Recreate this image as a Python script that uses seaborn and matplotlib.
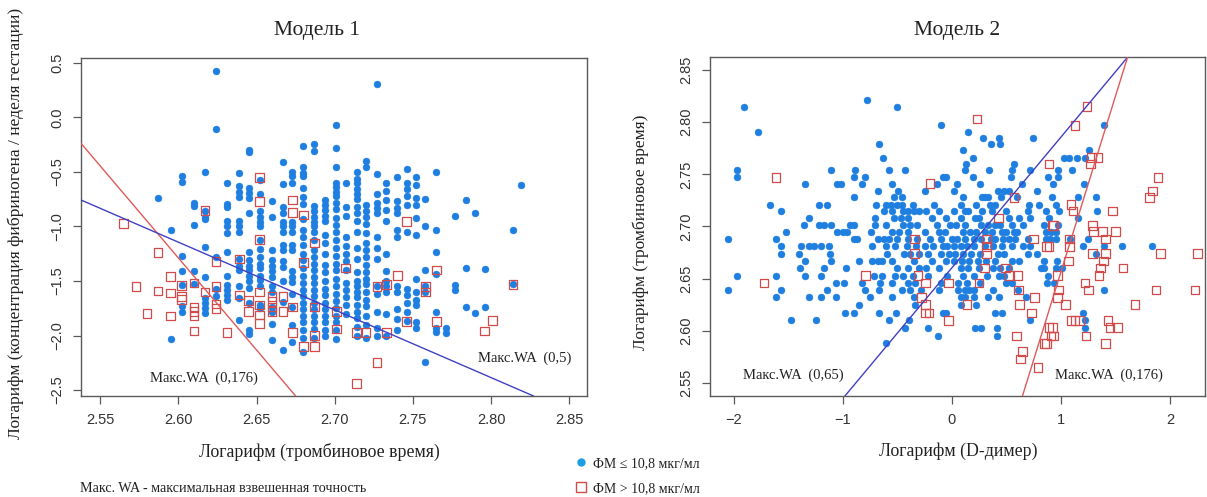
import numpy as np
import pandas as pd
import matplotlib
matplotlib.use("Agg")
import matplotlib.pyplot as plt
from matplotlib.lines import Line2D
import seaborn as sns

BLUE = "#1F7FE0"; RED = "#D24B4B"; LBLUE = "#1BA0E2"
LINE_RED = "#E05A5A"; LINE_BLUE = "#4040C4"
FRAME = "#5A5A5A"; TXT = "#222222"; TICK = "#333333"
SERIF = ["Liberation Serif", "DejaVu Serif"]
SANS = ["Liberation Sans", "DejaVu Sans"]

# ---- Model 1: log thrombin time (columns) -> log(fibrinogen / gestation week)
m1_blue_tt = [2.587, 2.595, 2.602, 2.610, 2.617, 2.624, 2.631, 2.639, 2.645, 2.652,
              2.660, 2.667, 2.673, 2.680, 2.687, 2.694, 2.701, 2.707, 2.714, 2.720,
              2.727, 2.733, 2.740, 2.746, 2.752, 2.758, 2.765, 2.771, 2.777, 2.784,
              2.790, 2.796, 2.814, 2.819]
m1_blue_fib = [
    [-0.74],
    [-1.03, -2.03],
    [-0.54, -0.59, -1.27, -1.41, -1.54, -1.73, -1.78],
    [-0.78, -0.81, -0.99, -1.41, -1.53],
    [-0.50, -0.86, -0.91, -0.93, -1.19, -1.46, -1.66, -1.70, -1.75, -1.79],
    [0.43, -0.11, -1.28, -1.57, -1.64],
    [-0.60, -0.79, -0.82, -0.95, -1.00, -1.06, -1.23, -1.45, -1.54, -1.58, -1.63, -1.67],
    [-0.51, -0.63, -0.68, -0.73, -0.95, -1.00, -1.05, -1.30, -1.36, -1.40, -1.55, -1.66, -1.86],
    [-0.30, -0.32, -0.65, -0.69, -0.74, -0.88, -1.23, -1.31, -1.36, -1.40, -1.45, -1.50, -1.56,
     -1.70, -1.95, -1.99],
    [-0.57, -0.70, -0.86, -0.91, -0.955, -1.00, -1.12, -1.21, -1.28, -1.34, -1.38, -1.45, -1.49,
     -1.55, -1.72, -1.75],
    [-0.77, -0.915, -1.22, -1.31, -1.36, -1.41, -1.46, -1.55, -1.60, -1.74, -1.78, -1.89, -2.04],
    [-0.41, -0.61, -0.82, -0.88, -0.955, -1.00, -1.05, -1.17, -1.22, -1.32, -1.37, -1.50, -1.69, -2.13],
    [-0.50, -0.535, -0.60, -0.955, -1.00, -1.05, -1.17, -1.22, -1.41, -1.46, -1.51, -1.62, -1.74,
     -1.90, -2.06],
    [-0.26, -0.45, -0.51, -0.54, -0.65, -0.73, -0.79, -0.93, -1.03, -1.10, -1.17, -1.25, -1.31,
     -1.38, -1.45, -1.52, -1.58, -1.64, -1.70, -1.76, -1.82, -1.88, -1.95, -2.02, -2.15],
    [-0.245, -0.31, -0.81, -0.86, -0.91, -0.96, -1.00, -1.05, -1.12, -1.22, -1.28, -1.34, -1.40,
     -1.46, -1.52, -1.58, -1.64, -1.70, -1.76, -1.82, -1.88, -1.94, -2.02],
    [-0.76, -0.80, -0.85, -0.90, -0.95, -1.08, -1.15, -1.25, -1.35, -1.42, -1.50, -1.57, -1.63,
     -1.70, -1.76, -1.82, -1.88, -1.95, -2.00],
    [-0.07, -0.28, -0.45, -0.60, -0.64, -0.68, -0.72, -0.78, -0.84, -0.92, -0.99, -1.05, -1.12,
     -1.20, -1.27, -1.34, -1.40, -1.48, -1.55, -1.62, -1.68, -1.75, -1.82, -1.88, -1.95, -2.03],
    [-0.60, -0.82, -0.90, -1.10, -1.18, -1.25, -1.32, -1.40, -1.52, -1.58, -1.65, -1.72, -1.80],
    [-0.50, -0.56, -0.60, -0.66, -0.70, -0.75, -0.82, -0.88, -0.95, -1.05, -1.20, -1.30, -1.42,
     -1.50, -1.55, -1.60, -1.65, -1.72, -1.78, -1.84, -1.92, -2.00],
    [-0.40, -0.45, -0.80, -0.86, -0.91, -0.98, -1.06, -1.15, -1.22, -1.28, -1.35, -1.42, -1.48,
     -1.53, -1.60, -1.67, -1.73, -1.82, -1.90, -2.02],
    [0.31, -0.52, -0.70, -0.78, -0.83, -0.88, -1.10, -1.20, -1.30, -1.55, -1.62, -1.78, -1.93, -2.00],
    [-0.60, -0.67, -0.76, -0.85, -0.95, -1.25, -1.41, -1.50, -1.55, -1.60, -1.80, -2.00],
    [-0.545, -0.77, -0.83, -0.88, -1.03, -1.10, -1.55, -1.60, -1.76, -1.85, -1.95],
    [-0.47, -0.60, -0.66, -0.72, -0.80, -1.05, -1.57, -1.63, -1.70, -1.78, -1.87],
    [-0.55, -0.62, -0.74, -0.80, -0.92, -1.08, -1.48, -1.60, -1.67, -1.72, -1.88, -1.93],
    [-0.75, -1.00, -1.40, -1.55, -1.60, -2.24],
    [-0.50, -1.03, -1.23, -1.44, -1.78, -1.93, -1.97],
    [-1.93, -1.98],
    [-0.90, -1.54, -1.58],
    [-0.76, -1.38, -1.74],
    [-0.88, -1.79],
    [-1.39, -1.74],
    [-1.03, -1.53],
    [-0.62],
]
m1_red_tt = [2.565, 2.573, 2.580, 2.587, 2.587, 2.595, 2.595, 2.595, 2.602, 2.602, 2.602,
             2.610, 2.610, 2.610, 2.610, 2.610, 2.617, 2.617, 2.624, 2.624, 2.624, 2.624,
             2.631, 2.639, 2.639, 2.645, 2.645, 2.652, 2.652, 2.652, 2.652, 2.652, 2.652,
             2.652, 2.660, 2.660, 2.660, 2.660, 2.667, 2.667, 2.673, 2.673, 2.673, 2.673,
             2.680, 2.680, 2.680, 2.687, 2.687, 2.687, 2.687, 2.701, 2.701, 2.707, 2.714,
             2.714, 2.720, 2.727, 2.727, 2.733, 2.733, 2.740, 2.746, 2.746, 2.758, 2.758,
             2.765, 2.765, 2.796, 2.801, 2.814]
m1_red_fib = [-0.97, -1.55, -1.80, -1.24, -1.59, -1.46, -1.61, -1.82, -1.54, -1.64, -1.67,
              -1.52, -1.74, -1.78, -1.82, -1.96, -0.855, -1.60, -1.32, -1.55, -1.71, -1.75,
              -1.97, -1.30, -1.63, -1.68, -1.78, -0.55, -0.77, -1.12, -1.60, -1.72, -1.81,
              -1.89, -1.64, -1.69, -1.74, -1.78, -1.64, -1.78, -0.757, -0.87, -1.74, -1.97,
              -0.895, -1.33, -2.10, -1.15, -1.74, -2.00, -2.10, -1.78, -1.94, -1.38, -1.97,
              -2.44, -1.97, -1.55, -2.25, -1.53, -1.97, -1.45, -0.955, -1.87, -1.55, -1.60,
              -1.40, -1.87, -1.96, -1.86, -1.53]
# cut-off lines (end points)
m1_cut_red_tt = [2.5377, 2.675]
m1_cut_red_fib = [-0.237, -2.555]
m1_cut_blue_tt = [2.5377, 2.8272]
m1_cut_blue_fib = [-0.757, -2.555]

# ---- Model 2: log D-dimer (x) vs log thrombin time (rows)
m2_blue_tt = [2.821, 2.815, 2.797, 2.791, 2.785, 2.779, 2.773, 2.766, 2.760, 2.754, 2.747,
              2.741, 2.734, 2.728, 2.721, 2.715, 2.708, 2.701, 2.695, 2.688, 2.681, 2.674,
              2.667, 2.660, 2.653, 2.646, 2.639, 2.632, 2.625, 2.617, 2.610, 2.603, 2.595, 2.588]
m2_blue_dd = [
    [-0.78],
    [-1.905, -0.50],
    [-0.10, 1.39],
    [-1.775, 0.15],
    [0.29, 0.43, 0.74],
    [-0.67, 0.36, 0.44],
    [0.10, 1.26],
    [-0.635, 0.19, 1.03, 1.07, 1.15, 1.22],
    [0.13, 0.57],
    [-1.97, -1.11, -0.89, -0.58, -0.43, 0.12, 0.34, 0.55, 0.72, 0.97, 1.10],
    [-1.97, -0.895, -0.80, -0.08, -0.05, 0.19, 0.54, 0.88, 0.97],
    [-1.35, -1.05, -1.02, -0.82, -0.55, -0.14, 0.05, 0.26, 0.64, 0.93, 1.21],
    [-0.68, -0.49, -0.25, 0.02, 0.42, 0.48, 0.52, 0.78],
    [-0.895, -0.53, -0.46, 0.10, 0.28, 0.30, 0.33, 0.45, 0.60, 0.92, 1.16, 1.32],
    [-1.665, -1.215, -1.14, -0.695, -0.60, -0.56, -0.50, -0.46, -0.36, -0.16, 0.08, 0.22, 0.35,
     0.40, 0.71, 0.80, 0.95],
    [-1.567, -0.62, -0.55, -0.45, -0.40, -0.35, -0.30, -0.24, -0.12, 0.02, 0.12, 0.15, 0.28,
     0.37, 0.50, 0.70, 0.86, 0.98, 1.33],
    [-1.31, -0.70, -0.53, -0.47, -0.40, -0.18, -0.05, 0.08, 0.21, 0.25, 0.52, 0.62, 0.72, 0.89, 1.16],
    [-1.353, -1.215, -1.17, -1.11, -0.93, -0.90, -0.70, -0.60, -0.45, -0.38, -0.32, -0.14,
     -0.02, 0.04, 0.12, 0.27, 0.33, 0.40, 0.44, 0.55, 0.65, 0.84, 0.97],
    [-1.52, -1.048, -1.00, -0.957, -0.74, -0.55, -0.48, -0.40, -0.25, -0.12, -0.06, 0.10, 0.17,
     0.22, 0.30, 0.37, 0.46, 0.50, 0.57, 0.60, 0.86, 0.91, 0.95],
    [-2.05, -1.61, -0.90, -0.87, -0.68, -0.62, -0.58, -0.50, -0.40, -0.32, -0.20, -0.10, 0.00,
     0.05, 0.12, 0.20, 0.27, 0.36, 0.40, 0.47, 0.52, 0.58, 0.70, 0.86, 0.90, 0.95, 1.08, 1.25],
    [-1.567, -1.384, -1.307, -1.26, -1.20, -1.13, -0.735, -0.60, -0.52, -0.41, -0.33, -0.25,
     -0.17, -0.08, -0.04, 0.02, 0.08, 0.14, 0.20, 0.30, 0.38, 0.46, 0.55, 0.65, 0.72, 1.20,
     1.39, 1.56, 1.83],
    [-1.567, -1.40, -1.115, -0.59, -0.44, -0.38, -0.30, -0.22, -0.10, -0.03, 0.03, 0.10, 0.18,
     0.26, 0.42, 0.48, 0.70, 0.78, 1.32],
    [-1.344, -1.11, -0.85, -0.73, -0.68, -0.64, -0.55, -0.35, -0.18, -0.05, 0.02, 0.09, 0.16,
     0.24, 0.31, 0.40, 0.55, 0.62, 0.84, 0.96],
    [-1.39, -1.17, -0.972, -0.50, -0.40, -0.30, -0.24, -0.12, 0.08, 0.15, 0.25, 0.38, 0.44,
     0.52, 0.82, 0.84, 0.95, 1.01],
    [-1.97, -1.61, -1.35, -1.20, -0.715, -0.64, -0.52, -0.45, -0.36, -0.22, -0.04, 0.10, 0.20,
     0.32, 0.43, 0.48, 0.88],
    [-1.06, -0.99, -0.82, -0.66, -0.55, -0.40, -0.34, -0.10, 0.06, 0.14, 0.26, 0.50, 0.55,
     0.87, 0.94],
    [-2.05, -1.567, -1.14, -0.80, -0.67, -0.46, -0.38, -0.28, -0.12, 0.06, 0.12, 0.16, 0.20,
     0.38, 0.61, 1.39],
    [-1.61, -1.31, -1.20, -1.06, -0.75, -0.55, -0.35, 0.08, 0.12, 0.20, 0.33, 0.43, 0.68],
    [-0.85, -0.34, 0.08, 0.22],
    [-0.975, -0.895, -0.67, -0.51, -0.08, -0.05, 0.40, 0.46, 1.20],
    [-1.475, -1.245, -0.58, -0.39, 0.72, 1.22],
    [-0.43, -0.22, 0.21, 0.27, 0.41, 1.22],
    [-0.124, 0.41],
    [-0.60],
]
m2_red_dd = [-1.61, -1.72, -0.79, -0.20, 0.23, 0.57, 0.43, 0.75, 0.89, 0.93, -0.34, -0.34,
             0.32, 0.32, 0.32, 0.49, 0.53, 0.60, 0.30, 0.25, -0.03, -0.24, -0.31, -0.28,
             -0.24, -0.24, -0.21, -0.03, 0.14, 0.61, 0.62, 0.76, 0.73, 0.59, 0.65, 0.63,
             0.79, 0.92, 0.87, 0.93, 1.24, 1.13, 1.28, 1.34, 1.27, 0.89, 1.89, 1.84, 1.81,
             1.09, 1.11, 1.47, 0.92, 0.87, 1.08, 1.08, 1.29, 1.30, 1.38, 1.50, 1.41, 1.29,
             1.41, 1.91, 2.25, 1.07, 1.39, 1.36, 1.35, 1.57, 0.97, 1.22, 1.25, 0.98, 0.97,
             1.87, 2.23, 1.04, 1.68, 1.09, 1.13, 1.17, 1.43, 1.45, 1.52, 1.23, 1.41, 0.89,
             0.91, 0.85]
m2_red_tt = [2.747, 2.646, 2.653, 2.741, 2.803, 2.728, 2.708, 2.688, 2.681, 2.701, 2.688, 2.674,
             2.688, 2.681, 2.674, 2.660, 2.653, 2.653, 2.660, 2.646, 2.646, 2.646, 2.653, 2.632,
             2.625, 2.617, 2.617, 2.610, 2.625, 2.639, 2.625, 2.632, 2.617, 2.595, 2.580, 2.573,
             2.565, 2.603, 2.588, 2.595, 2.815, 2.797, 2.766, 2.766, 2.760, 2.760, 2.747, 2.734,
             2.728, 2.721, 2.715, 2.715, 2.701, 2.681, 2.688, 2.681, 2.701, 2.695, 2.695, 2.695,
             2.688, 2.674, 2.674, 2.674, 2.674, 2.667, 2.667, 2.660, 2.653, 2.660, 2.653, 2.646,
             2.639, 2.639, 2.632, 2.639, 2.639, 2.625, 2.625, 2.610, 2.610, 2.610, 2.610, 2.603,
             2.603, 2.595, 2.588, 2.603, 2.595, 2.588]
m2_cut_blue_dd = [-0.98, 1.61]
m2_cut_blue_tt = [2.5375, 2.8622]
m2_cut_red_dd = [0.647, 1.61]
m2_cut_red_tt = [2.5375, 2.8622]

m1_xticks = [2.55, 2.60, 2.65, 2.70, 2.75, 2.80, 2.85]
m1_yticks = [-2.5, -2.0, -1.5, -1.0, -0.5, 0.0, 0.5]
m2_xticks = [-2, -1, 0, 1, 2]
m2_yticks = [2.55, 2.60, 2.65, 2.70, 2.75, 2.80, 2.85]


def expand(keys, groups, kname, vname):
    rows = [(k, v) for k, vs in zip(keys, groups) for v in vs]
    return pd.DataFrame(rows, columns=[kname, vname])


def r_axes(ax, xt, yt, xfmt, yfmt):
    ax.set_facecolor("white")
    for sp in ax.spines.values():
        sp.set_visible(True); sp.set_edgecolor(FRAME); sp.set_linewidth(1.0)
    ax.set_xticks(xt); ax.set_yticks(yt)
    ax.set_xticklabels([xfmt.format(v).replace("-", "\u2212") for v in xt],
                       family=SANS, fontsize=10.5, color=TICK)
    ax.set_yticklabels([yfmt.format(v).replace("-", "\u2212") for v in yt],
                       family=SANS, fontsize=10.5, color=TICK, rotation=90, va="center")
    ax.tick_params(direction="out", length=6, width=0.9, color=FRAME, pad=6,
                   bottom=True, left=True)
    ax.set_xlabel(""); ax.set_ylabel("")


sns.set_style("white")
plt.rcParams["font.family"] = SERIF

b1 = expand(m1_blue_tt, m1_blue_fib, "tt", "fib")
r1 = pd.DataFrame({"tt": m1_red_tt, "fib": m1_red_fib})
b2 = expand(m2_blue_tt, m2_blue_dd, "tt", "dd")
r2 = pd.DataFrame({"dd": m2_red_dd, "tt": m2_red_tt})

fig = plt.figure(figsize=(12.07, 4.97), dpi=100, facecolor="white")
ax1 = fig.add_axes([81 / 1207, 101 / 497, 506 / 1207, 337.7 / 497])
ax2 = fig.add_axes([709.6 / 1207, 101 / 497, 495.4 / 1207, 338.7 / 497])

# Model 1
sns.scatterplot(data=b1, x="tt", y="fib", ax=ax1, color=BLUE, edgecolor=BLUE,
                s=25, linewidth=0.3, legend=False, zorder=3)
sns.scatterplot(data=r1, x="tt", y="fib", ax=ax1, marker="s", color=RED, facecolor="none",
                edgecolor=RED, s=38, linewidth=0.9, legend=False, zorder=4)
ax1.plot(m1_cut_red_tt, m1_cut_red_fib, color=LINE_RED, lw=1.0, zorder=5)
ax1.plot(m1_cut_blue_tt, m1_cut_blue_fib, color=LINE_BLUE, lw=1.0, zorder=5)
ax1.set_xlim(2.5377, 2.8614); ax1.set_ylim(-2.555, 0.543)
r_axes(ax1, m1_xticks, m1_yticks, "{:.2f}", "{:.1f}")
ax1.text(2.5818, -2.39, "Макс.WA  (0,176)", fontsize=10.5, color=TXT, va="center")
ax1.text(2.7915, -2.206, "Макс.WA  (0,5)", fontsize=10.5, color=TXT, va="center")

# Model 2
sns.scatterplot(data=b2, x="dd", y="tt", ax=ax2, color=BLUE, edgecolor=BLUE,
                s=25, linewidth=0.3, legend=False, zorder=3)
sns.scatterplot(data=r2, x="dd", y="tt", ax=ax2, marker="s", color=RED, facecolor="none",
                edgecolor=RED, s=38, linewidth=0.9, legend=False, zorder=4)
ax2.plot(m2_cut_blue_dd, m2_cut_blue_tt, color=LINE_BLUE, lw=1.0, zorder=5)
ax2.plot(m2_cut_red_dd, m2_cut_red_tt, color=LINE_RED, lw=1.0, zorder=5)
ax2.set_xlim(-2.22, 2.32); ax2.set_ylim(2.5375, 2.8622)
r_axes(ax2, m2_xticks, m2_yticks, "{:d}", "{:.2f}")
ax2.text(-1.913, 2.557, "Макс.WA  (0,65)", fontsize=10.5, color=TXT, va="center")
ax2.text(0.949, 2.557, "Макс.WA  (0,176)", fontsize=10.5, color=TXT, va="center")

# titles and axis labels
fig.text(317 / 1207, 1 - 30 / 497, "Модель 1", fontsize=15.5, color=TXT, ha="center", va="center")
fig.text(957 / 1207, 1 - 30 / 497, "Модель 2", fontsize=15.5, color=TXT, ha="center", va="center")
fig.text(319.5 / 1207, 1 - 451.7 / 497, "Логарифм (тромбиновое время)", fontsize=12.8,
         color=TXT, ha="center", va="center")
fig.text(958 / 1207, 1 - 451.7 / 497, "Логарифм (D-димер)", fontsize=12.8,
         color=TXT, ha="center", va="center")
fig.text(16 / 1207, 1 - 223 / 497, "Логарифм (концентрация фибриногена / неделя гестации)",
         fontsize=12.6, color=TXT, ha="center", va="center", rotation=90)
fig.text(641 / 1207, 1 - 232 / 497, "Логарифм (тромбиновое время)", fontsize=12.5,
         color=TXT, ha="center", va="center", rotation=90)

# legend and footnote
handles = [Line2D([], [], ls="none", marker="o", ms=5, mfc=LBLUE, mec=LBLUE),
           Line2D([], [], ls="none", marker="s", ms=6.5, mfc="none", mec=RED, mew=1.0)]
fig.legend(handles, ["ФМ ≤ 10,8 мкг/мл", "ФМ > 10,8 мкг/мл"], loc="center left",
           bbox_to_anchor=(568 / 1207, 1 - 476 / 497), frameon=False, fontsize=10,
           handlelength=0.8, handletextpad=0.5, labelspacing=0.9, borderpad=0.0,
           labelcolor=TXT)
fig.text(80 / 1207, 1 - 488 / 497, "Макс. WA - максимальная взвешенная точность",
         fontsize=10.2, color=TXT, ha="left", va="center")

fig.savefig("out.png", dpi=100, facecolor="white")
